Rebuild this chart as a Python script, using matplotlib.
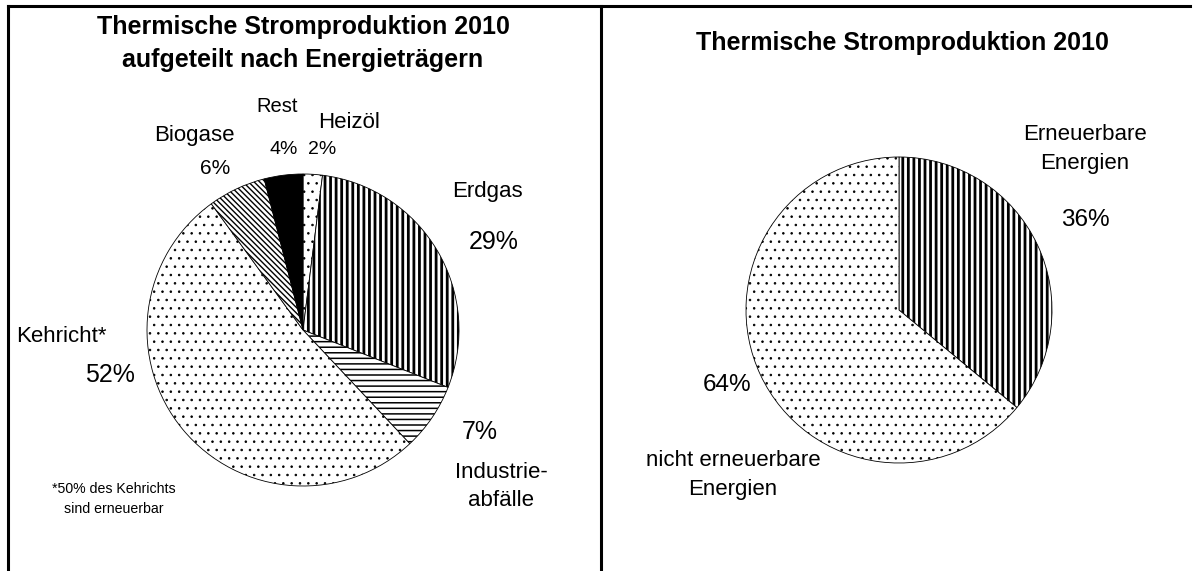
import matplotlib
matplotlib.use('Agg')
import matplotlib.pyplot as plt
from matplotlib.lines import Line2D

plt.rcParams['font.family'] = ['Liberation Sans', 'DejaVu Sans']
plt.rcParams['hatch.linewidth'] = 2.0

# data
traeger = ['Heizöl', 'Erdgas', 'Industrieabfälle', 'Kehricht', 'Biogase', 'Rest']
anteile = [2, 29, 7, 52, 6, 4]
muster = ['..', '|||', '---', '..', '\\' * 6, None]
farben = ['white', 'white', 'white', 'white', 'white', 'black']
hatch_lw = [0.6, 2.0, 1.1, 0.6, 1.0, 1.0]

gruppen = ['Erneuerbare Energien', 'nicht erneuerbare Energien']
gruppen_anteile = [36, 64]
gruppen_muster = ['|||', '..']
gruppen_lw = [2.0, 0.6]

W, H = 1197, 571
fig = plt.figure(figsize=(W / 100, H / 100), dpi=100)


def pie_axes(cx, cy, r):
    return fig.add_axes([(cx - r) / W, 1 - (cy + r) / H, 2 * r / W, 2 * r / H])


def txt(x, y, s, size=16, **kw):
    fig.text(x / W, 1 - y / H, s, fontsize=size, ha='center', va='center', **kw)


# left pie
ax1 = pie_axes(303, 330, 156)
wedges, _ = ax1.pie(anteile, startangle=90, counterclock=False, colors=farben,
                    wedgeprops=dict(edgecolor='black', linewidth=0.6))
for w, h, lw in zip(wedges, muster, hatch_lw):
    if h:
        w.set_hatch(h)
    if hasattr(w, 'set_hatch_linewidth'):
        w.set_hatch_linewidth(lw)
ax1.set_xlim(-1, 1)
ax1.set_ylim(-1, 1)

# right pie
ax2 = pie_axes(899, 310, 153)
wedges2, _ = ax2.pie(gruppen_anteile, startangle=90, counterclock=False, colors=['white', 'white'],
                     wedgeprops=dict(edgecolor='black', linewidth=0.6))
for w, h, lw in zip(wedges2, gruppen_muster, gruppen_lw):
    w.set_hatch(h)
    if hasattr(w, 'set_hatch_linewidth'):
        w.set_hatch_linewidth(lw)
ax2.set_xlim(-1, 1)
ax2.set_ylim(-1, 1)

# titles
txt(303, 27, 'Thermische Stromproduktion 2010', 18, fontweight='bold')
txt(303, 60, 'aufgeteilt nach Energieträgern', 18, fontweight='bold')
txt(902, 43, 'Thermische Stromproduktion 2010', 18, fontweight='bold')

# labels left
txt(277, 107, 'Rest', 14.5)
txt(284, 150, '4%', 14)
txt(349, 122, 'Heizöl', 16)
txt(322, 150, '2%', 14)
txt(194, 135, 'Biogase', 16)
txt(215, 168, '6%', 15)
txt(487, 192, 'Erdgas', 16)
txt(494, 242, '29%', 18)
txt(61, 337, 'Kehricht*', 16)
txt(110, 375, '52%', 18)
txt(480, 432, '7%', 18)
txt(501, 473, 'Industrie-', 16)
txt(501, 500, 'abfälle', 16)
txt(114, 489, '*50% des Kehrichts', 10.2)
txt(114, 509, 'sind erneuerbar', 10.2)

# labels right
txt(1085, 135, 'Erneuerbare', 16)
txt(1085, 163, 'Energien', 16)
txt(1085, 220, '36%', 17.5)
txt(727, 385, '64%', 17.5)
txt(733, 461, 'nicht erneuerbare', 16)
txt(733, 490, 'Energien', 16)

# frame
for xs, ys in [([8, 8], [6, H]), ([8, 1190], [6, 6]), ([601, 601], [6, H])]:
    fig.add_artist(Line2D([x / W for x in xs], [1 - y / H for y in ys],
                          color='black', linewidth=2.2, transform=fig.transFigure))

fig.savefig('out.png', dpi=100)
